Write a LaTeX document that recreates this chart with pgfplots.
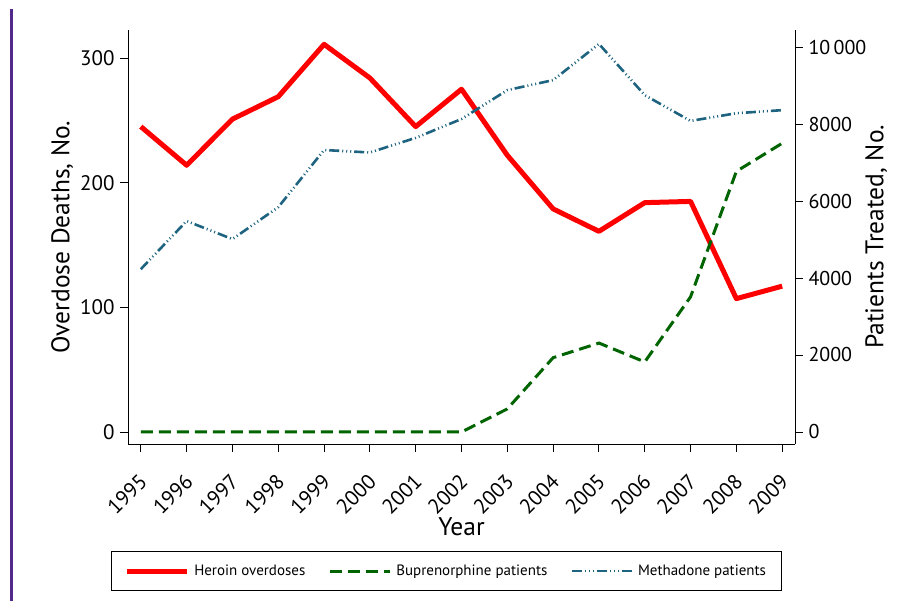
\documentclass[border=0pt]{standalone}
\usepackage{pgfplots}
\pgfplotsset{compat=1.18}
\usepackage{fontspec}
\setmainfont{PT Sans}
\definecolor{heroin}{RGB}{255,0,0}
\definecolor{bup}{RGB}{0,100,0}
\definecolor{meth}{RGB}{30,100,128}
\definecolor{frame}{RGB}{82,40,140}
\begin{document}
\begin{tikzpicture}
\useasboundingbox (0pt,0pt) rectangle (921pt,-601pt);
\draw[frame, line width=2.2pt] (11.5pt,-9pt) -- (11.5pt,-601pt);

% left axis: overdose deaths
\begin{axis}[
  at={(128pt,-444pt)}, anchor=south west,
  scale only axis, width=667pt, height=414pt,
  xmin=1994.72, xmax=2009.28,
  ymin=-9.6, ymax=322.5,
  axis x line*=bottom, axis y line*=left,
  axis line style={line width=0.9pt, -},
  xtick={1995,...,2009},
  xticklabel style={anchor=north east, inner sep=1pt, xshift=-3pt, yshift=-19pt, rotate=45},
  yticklabel style={xshift=-2pt},
  ytick={0,100,200,300},
  tick style={line width=0.9pt, black},
  major tick length=8pt,
  tick align=outside,
  /pgf/number format/assume math mode=true,
  /pgf/number format/1000 sep={},
  tick label style={font=\fontsize{21}{24}\selectfont},
  ylabel={Overdose Deaths, No.},
  xlabel={Year},
  label style={font=\fontsize{25.5}{30}\selectfont},
  ylabel style={yshift=0pt},
  xlabel style={yshift=3pt},
]
\addplot[heroin, line width=5pt, line join=round] coordinates {
 (1995,245) (1996,214) (1997,251) (1998,269) (1999,311) (2000,284)
 (2001,245) (2002,275) (2003,222) (2004,179) (2005,161) (2006,184)
 (2007,185) (2008,107) (2009,117)
};
\end{axis}

% right axis: patients treated
\begin{axis}[
  at={(128pt,-444pt)}, anchor=south west,
  scale only axis, width=667pt, height=414pt,
  xmin=1994.72, xmax=2009.28,
  ymin=-312, ymax=10442,
  axis x line=none, axis y line*=right,
  axis line style={line width=0.9pt, -},
  ytick={0,2000,4000,6000,8000,10000},
  yticklabels={0,2000,4000,6000,8000,10\,000},
  scaled y ticks=false,
  yticklabel style={xshift=2pt},
  tick style={line width=0.9pt, black},
  major tick length=8pt,
  tick align=outside,
  tick label style={font=\fontsize{20}{24}\selectfont},
  ylabel={Patients Treated, No.},
  label style={font=\fontsize{25.5}{30}\selectfont},
  ylabel style={yshift=8pt},
  legend columns=3,
  legend style={
    at={(0.477,-0.307)}, anchor=center,
    draw=black, line width=0.8pt,
    font=\fontsize{15}{18}\selectfont,
    inner xsep=13pt, inner ysep=11.5pt,
    /tikz/every even column/.append style={column sep=21pt},
    /tikz/every odd column/.append style={column sep=3pt},
  },
  legend image code/.code={\draw[#1] (0pt,0pt) -- (60pt,0pt);},
]
\addlegendimage{heroin, line width=5pt}
\addlegendentry{Heroin overdoses}
\addplot[bup, line width=3pt, dash pattern=on 12pt off 6pt] coordinates {
 (1995,0) (1996,0) (1997,0) (1998,0) (1999,0) (2000,0) (2001,0) (2002,0)
 (2003,600) (2004,1930) (2005,2310) (2006,1820) (2007,3510) (2008,6770)
 (2009,7500)
};
\addlegendentry{Buprenorphine patients}
\addplot[meth, line width=2.6pt, dash pattern=on 10pt off 3pt on 1pt off 3pt on 1pt off 3pt on 1pt off 3pt] coordinates {
 (1995,4230) (1996,5480) (1997,5010) (1998,5840) (1999,7325) (2000,7260)
 (2001,7640) (2002,8130) (2003,8880) (2004,9140) (2005,10080) (2006,8750)
 (2007,8080) (2008,8280) (2009,8360)
};
\addlegendentry{Methadone patients}
\end{axis}
\end{tikzpicture}
\end{document}
